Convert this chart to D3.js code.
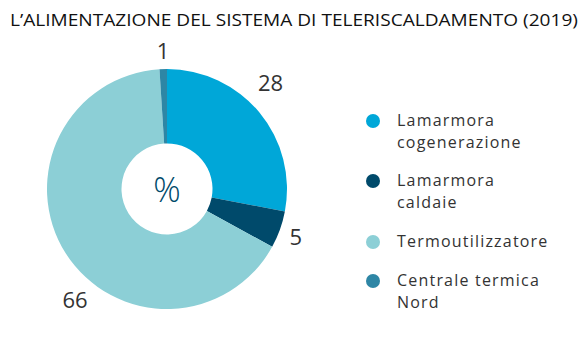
<!DOCTYPE html>
<html>
<head>
<meta charset="utf-8">
<script src="https://cdn.jsdelivr.net/npm/d3@7"></script>
<style>
  html, body { margin: 0; padding: 0; background: #fff; }
  svg { display: block; }
</style>
</head>
<body>
<svg id="chart" width="587" height="344"></svg>
<script>
// Alimentazione del sistema di teleriscaldamento, quote percentuali 2019
const title = "L\u2019ALIMENTAZIONE DEL SISTEMA DI TELERISCALDAMENTO (2019)";
const categories = ["Lamarmora cogenerazione", "Lamarmora caldaie", "Termoutilizzatore", "Centrale termica Nord"];
const legendLines = [["Lamarmora", "cogenerazione"], ["Lamarmora", "caldaie"], ["Termoutilizzatore"], ["Centrale termica", "Nord"]];
const values = [28, 5, 66, 1];
const colors = ["#00a7d8", "#004a6b", "#8ccfd6", "#2e86a5"];

const svg = d3.select("#chart");

svg.append("text")
  .attr("x", 10).attr("y", 26)
  .attr("font-family", "'Open Sans', sans-serif")
  .attr("font-size", 16.5)
  .attr("fill", "#111")
  .attr("textLength", 568)
  .attr("lengthAdjust", "spacingAndGlyphs")
  .text(title);

const cx = 167, cy = 189, rOuter = 120, rInner = 45.5;

const pie = d3.pie().sort(null).value(d => d);
const arcs = pie(values);
const arc = d3.arc().innerRadius(rInner).outerRadius(rOuter);

const g = svg.append("g").attr("transform", `translate(${cx},${cy})`);
g.selectAll("path.slice")
  .data(arcs)
  .join("path")
  .attr("class", "slice")
  .attr("d", arc)
  .attr("fill", (d, i) => colors[i]);

// value labels sit outside the ring; each gets its own angle (degrees, clockwise from top) and radius
const labelAngle = [44, 110, 220, -1.6];
const labelRadius = [149, 137, 143, 139];
g.selectAll("text.val")
  .data(arcs)
  .join("text")
  .attr("class", "val")
  .attr("transform", (d, i) => {
    const a = labelAngle[i] * Math.PI / 180;
    const r = labelRadius[i];
    return `translate(${Math.sin(a) * r},${-Math.cos(a) * r})`;
  })
  .attr("text-anchor", "middle")
  .attr("dominant-baseline", "central")
  .attr("font-family", "'Open Sans', sans-serif")
  .attr("font-size", 22)
  .attr("fill", "#333")
  .text(d => d.data);

g.append("text")
  .attr("text-anchor", "middle")
  .attr("dominant-baseline", "central")
  .attr("font-family", "'Open Sans', sans-serif")
  .attr("font-size", 34)
  .attr("font-weight", 300)
  .attr("fill", "#004a6b")
  .text("%");

// legend: swatch plus one text element per line
const legendY = [120, 180, 241, 280];
const lg = svg.append("g");
categories.forEach((c, i) => {
  lg.append("circle")
    .attr("cx", 373).attr("cy", legendY[i] + 1).attr("r", 7)
    .attr("fill", colors[i]);
  legendLines[i].forEach((line, j) => {
    lg.append("text")
      .attr("x", 397)
      .attr("y", legendY[i] + 5.5 + j * 22)
      .attr("font-family", "'Open Sans', sans-serif")
      .attr("font-size", 16)
      .attr("fill", "#333")
      .attr("letter-spacing", 1.2)
      .text(line);
  });
});
</script>
</body>
</html>
